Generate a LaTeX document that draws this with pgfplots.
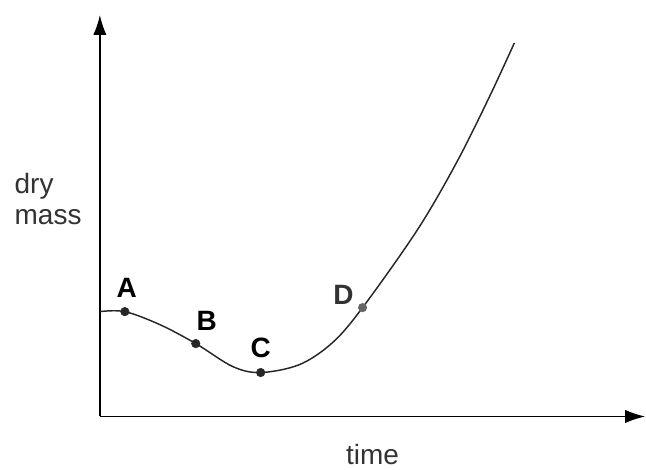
\documentclass[border=0pt]{standalone}
\usepackage{pgfplots}
\pgfplotsset{compat=1.18}
\usepackage{fontspec}
\setmainfont{Liberation Sans}
\usetikzlibrary{arrows.meta}
\begin{document}
\begin{tikzpicture}
\begin{axis}[
  x=7.5pt, y=7.5pt,
  xmin=0, xmax=54.6, ymin=0, ymax=40.2,
  axis lines=left,
  axis line style={line width=1.2pt, -{Latex[length=15pt,width=10pt]}},
  xtick=\empty, ytick=\empty,
  clip=false,
]
  % dry mass curve
  \addplot[smooth, tension=0.55, line width=1.1pt, color=black!85]
    coordinates {(0,10.5)(2.5,10.5)(6,9.2)(9.6,7.3)(13.3,5.0)(16.1,4.4)(20,5.2)(23.3,7.4)(26.3,10.9)(31.8,18.7)(35.7,25.4)(39.0,32.0)(41.5,37.4)};
  % labelled points
  \addplot[only marks, mark=*, mark size=3.2pt, color=black!85]
    coordinates {(2.5,10.5)(9.6,7.3)(16.1,4.4)};
  \addplot[only marks, mark=*, mark size=3.2pt, color=black!60]
    coordinates {(26.3,10.9)};
  \node[font=\fontsize{21}{21}\selectfont\bfseries] at (axis cs:2.7,12.9) {A};
  \node[font=\fontsize{21}{21}\selectfont\bfseries] at (axis cs:10.7,9.6) {B};
  \node[font=\fontsize{21}{21}\selectfont\bfseries] at (axis cs:16.1,6.9) {C};
  \node[font=\fontsize{21}{21}\selectfont\bfseries, text=black!80] at (axis cs:24.4,12.2) {D};
  \node[font=\fontsize{21}{23}\selectfont, anchor=west, align=left, text=black!80] at (axis cs:-9.0,21.8) {dry\\mass};
  \node[font=\fontsize{21}{21}\selectfont, text=black!80] at (axis cs:27.3,-3.8) {time};
  % page frame
  \path (axis cs:-10,-5.1) rectangle (axis cs:54.6,41.7);
\end{axis}
\end{tikzpicture}
\end{document}
